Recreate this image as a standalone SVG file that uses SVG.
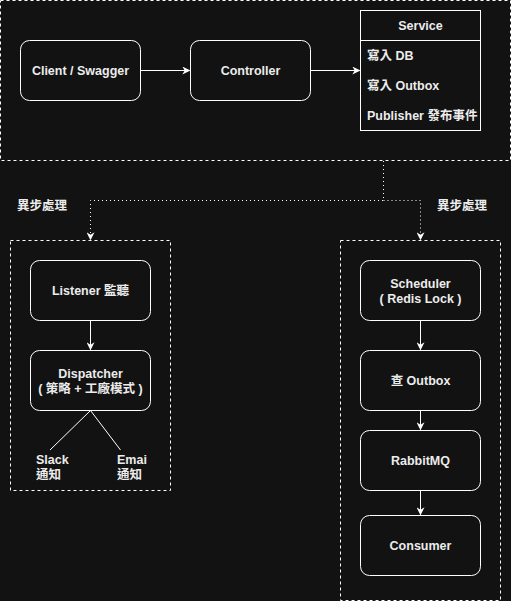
<svg xmlns="http://www.w3.org/2000/svg" width="511" height="601" viewBox="0 0 511 601">
<defs>
<marker id="ah" viewBox="0 0 10 10" refX="9" refY="5" markerWidth="8" markerHeight="8" markerUnits="userSpaceOnUse" orient="auto">
<path d="M0,0 L10,5 L0,10 L3,5 Z" fill="#ffffff"/>
</marker>
</defs>
<style>
.bg{fill:#121212}
.frame{fill:none;stroke:#ffffff;stroke-width:1;stroke-dasharray:3 3}
.node{fill:#121212;stroke:#ffffff;stroke-width:1}
.t{font-family:"Liberation Sans","Noto Sans CJK TC",sans-serif;font-size:12.5px;font-weight:bold;fill:#ececec}
.c{text-anchor:middle}
.edge{fill:none;stroke:#ffffff;stroke-width:1}
.dot{fill:none;stroke:#ffffff;stroke-width:1;stroke-dasharray:1 3}
</style>
<rect class="bg" x="0" y="0" width="511" height="601"/>
<g id="frames">
<rect class="frame" x="0.5" y="0.5" width="510" height="160"/>
<rect class="frame" x="10.5" y="240.5" width="160" height="250"/>
<rect class="frame" x="340.5" y="240.5" width="160" height="360"/>
</g>
<g id="client">
<rect class="node" x="20.5" y="40.5" width="120" height="60" rx="9"/>
<text class="t c" x="80.5" y="75">Client / Swagger</text>
</g>
<g id="controller">
<rect class="node" x="190.5" y="40.5" width="120" height="60" rx="9"/>
<text class="t c" x="250.5" y="75">Controller</text>
</g>
<g id="service">
<rect class="node" x="360.5" y="10.5" width="120" height="120"/>
<line class="edge" x1="360.5" y1="40.5" x2="480.5" y2="40.5"/>
<text class="t c" x="420.5" y="30">Service</text>
<text class="t" x="367" y="60">寫入 DB</text>
<text class="t" x="367" y="90">寫入 Outbox</text>
<text class="t" x="367" y="120">Publisher 發布事件</text>
</g>
<g id="listener">
<rect class="node" x="30.5" y="260.5" width="120" height="60" rx="9"/>
<text class="t c" x="90.5" y="295">Listener 監聽</text>
</g>
<g id="dispatcher">
<rect class="node" x="30.5" y="350.5" width="120" height="60" rx="9"/>
<text class="t c" x="90.5" y="378">Dispatcher</text>
<text class="t c" x="90.5" y="393">( 策略 + 工廠模式 )</text>
</g>
<g id="slack">
<text class="t" x="36" y="464">Slack</text>
<text class="t" x="36" y="479">通知</text>
</g>
<g id="email">
<text class="t" x="117" y="464">Emai</text>
<text class="t" x="117" y="479">通知</text>
</g>
<g id="scheduler">
<rect class="node" x="360.5" y="260.5" width="120" height="60" rx="9"/>
<text class="t c" x="420.5" y="288">Scheduler</text>
<text class="t c" x="420.5" y="303">( Redis Lock )</text>
</g>
<g id="query">
<rect class="node" x="360.5" y="350.5" width="120" height="60" rx="9"/>
<text class="t c" x="420.5" y="385">查 Outbox</text>
</g>
<g id="rabbitmq">
<rect class="node" x="360.5" y="430.5" width="120" height="60" rx="9"/>
<text class="t c" x="420.5" y="465">RabbitMQ</text>
</g>
<g id="consumer">
<rect class="node" x="360.5" y="515.5" width="120" height="60" rx="9"/>
<text class="t c" x="420.5" y="550">Consumer</text>
</g>
<g id="labels">
<text class="t" x="17" y="210">異步處理</text>
<text class="t" x="437" y="210">異步處理</text>
</g>
<g id="connectors">
<line class="edge" x1="140.5" y1="70.5" x2="189.5" y2="70.5" marker-end="url(#ah)"/>
<line class="edge" x1="310.5" y1="70.5" x2="359.5" y2="70.5" marker-end="url(#ah)"/>
<polyline class="dot" points="383.5,161 383.5,200.5 90.5,200.5 90.5,239.5" marker-end="url(#ah)"/>
<polyline class="dot" points="383.5,200.5 420.5,200.5 420.5,239.5" marker-end="url(#ah)"/>
<line class="edge" x1="90.5" y1="320.5" x2="90.5" y2="349.5" marker-end="url(#ah)"/>
<line class="edge" x1="90.5" y1="410.5" x2="50" y2="450"/>
<line class="edge" x1="90.5" y1="410.5" x2="120.5" y2="450"/>
<line class="edge" x1="420.5" y1="320.5" x2="420.5" y2="349.5" marker-end="url(#ah)"/>
<line class="edge" x1="420.5" y1="410.5" x2="420.5" y2="429.5" marker-end="url(#ah)"/>
<line class="edge" x1="420.5" y1="490.5" x2="420.5" y2="514.5" marker-end="url(#ah)"/>
</g>
</svg>
